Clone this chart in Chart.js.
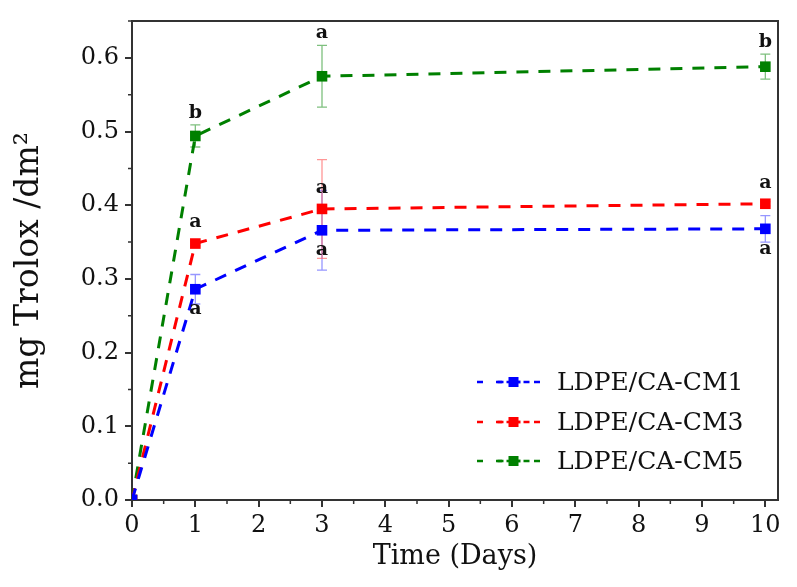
<!DOCTYPE html>
<html lang="en">
<head>
<meta charset="UTF-8">
<title>mg Trolox /dm2 over time</title>
<script src="https://cdn.jsdelivr.net/npm/chart.js"></script>
<style>
  body { margin: 0; background: #fff; }
  #wrap { width: 797px; height: 587px; }
</style>
</head>
<body>
<div id="wrap"><canvas id="troloxChart"></canvas></div>
<script>
// values
const days = [0, 1, 3, 10];
const seriesNames = ["LDPE/CA-CM1", "LDPE/CA-CM3", "LDPE/CA-CM5"];
const cm1 = [0, 0.286, 0.366, 0.368];
const cm3 = [0, 0.348, 0.395, 0.402];
const cm5 = [0, 0.494, 0.575, 0.588];
const cm1Err = [0, 0.020, 0.054, 0.018];
const cm3Err = [0, 0.003, 0.067, 0.003];
const cm5Err = [0, 0.015, 0.042, 0.017];
const cm1Letters = ["", "a", "a", "a"];
const cm3Letters = ["", "a", "a", "a"];
const cm5Letters = ["", "b", "a", "b"];
const xTicks = [0, 1, 2, 3, 4, 5, 6, 7, 8, 9, 10];
const yTicks = [0.0, 0.1, 0.2, 0.3, 0.4, 0.5, 0.6];

const serif = "'DejaVu Serif', 'Liberation Serif', serif";

function toPoints(vals) {
    return days.map((d, i) => ({ x: d, y: vals[i] }));
}

function makeSet(label, vals, errs, letters, color, errColor, side, clearBars) {
    return {
        label: label,
        data: toPoints(vals),
        errors: errs,
        letters: letters,
        letterSide: side,
        clearBars: clearBars,
        errColor: errColor,
        borderColor: color,
        backgroundColor: color,
        borderWidth: 3,
        borderDash: [12, 10],
        pointStyle: "rect",
        pointRadius: 7.5,
        pointHoverRadius: 7.5,
        pointBorderWidth: 0,
        tension: 0,
        fill: false
    };
}

// error bars, drawn under the markers
const errorBars = {
    id: "errorBars",
    beforeDatasetsDraw(chart) {
        const ctx = chart.ctx;
        const xs = chart.scales.x, ys = chart.scales.y;
        chart.data.datasets.forEach(ds => {
            ctx.save();
            ctx.strokeStyle = ds.errColor;
            ctx.lineWidth = 1.3;
            ds.data.forEach((p, i) => {
                const e = ds.errors[i];
                if (!e) return;
                const px = xs.getPixelForValue(p.x);
                const top = ys.getPixelForValue(p.y + e);
                const bot = ys.getPixelForValue(p.y - e);
                ctx.beginPath();
                ctx.moveTo(px, top); ctx.lineTo(px, bot);
                ctx.moveTo(px - 5, top); ctx.lineTo(px + 5, top);
                ctx.moveTo(px - 5, bot); ctx.lineTo(px + 5, bot);
                ctx.stroke();
            });
            ctx.restore();
        });
    }
};

// significance letters, frame, minor ticks and legend
const decorations = {
    id: "decorations",
    afterDraw(chart) {
        const ctx = chart.ctx;
        const xs = chart.scales.x, ys = chart.scales.y;
        const area = chart.chartArea;

        ctx.save();
        ctx.font = "bold 19px " + serif;
        ctx.fillStyle = "#111";
        ctx.textAlign = "center";
        ctx.textBaseline = "middle";
        chart.data.datasets.forEach(ds => {
            ds.data.forEach((p, i) => {
                const t = ds.letters[i];
                if (!t) return;
                const px = xs.getPixelForValue(p.x);
                const py = ys.getPixelForValue(p.y);
                let ly;
                if (ds.letterSide === "below") {
                    ly = py + 20;
                } else {
                    ly = py - 21;
                    if (ds.clearBars) {
                        ly = Math.min(ly, ys.getPixelForValue(p.y + ds.errors[i]) - 12);
                    }
                }
                ctx.fillText(t, px, ly);
            });
        });
        ctx.restore();

        // top and right frame lines
        ctx.save();
        ctx.strokeStyle = "#333";
        ctx.lineWidth = 2;
        ctx.beginPath();
        ctx.moveTo(area.left, area.top);
        ctx.lineTo(area.right, area.top);
        ctx.lineTo(area.right, area.bottom);
        ctx.stroke();

        // minor ticks
        ctx.lineWidth = 1.5;
        ctx.beginPath();
        for (let i = 0; i < xTicks.length - 1; i++) {
            const px = xs.getPixelForValue(xTicks[i] + 0.5);
            ctx.moveTo(px, area.bottom);
            ctx.lineTo(px, area.bottom + 4);
        }
        for (let i = 0; i < yTicks.length; i++) {
            const py = ys.getPixelForValue(yTicks[i] + 0.05);
            ctx.moveTo(area.left, py);
            ctx.lineTo(area.left - 4, py);
        }
        ctx.stroke();
        ctx.restore();

        // legend in the lower right corner
        ctx.save();
        ctx.font = "25px " + serif;
        ctx.textBaseline = "middle";
        ctx.textAlign = "left";
        const rowY = [area.bottom - 118, area.bottom - 78, area.bottom - 39];
        const x0 = area.right - 301, x1 = area.right - 228, tx = area.right - 221;
        chart.data.datasets.forEach((ds, i) => {
            const y = rowY[i];
            ctx.strokeStyle = ds.borderColor;
            ctx.lineWidth = 2.5;
            ctx.setLineDash([6, 13]);
            ctx.beginPath();
            ctx.moveTo(x0, y); ctx.lineTo(x1, y);
            ctx.stroke();
            ctx.setLineDash([]);
            ctx.fillStyle = ds.borderColor;
            const mx = (x0 + x1) / 2;
            ctx.beginPath();
            ctx.moveTo(mx - 16, y); ctx.lineTo(mx + 16, y);
            ctx.stroke();
            ctx.fillStyle = "#fff";
            ctx.fillRect(mx - 10, y - 3, 3, 6);
            ctx.fillRect(mx + 7, y - 3, 3, 6);
            ctx.fillStyle = ds.borderColor;
            ctx.fillRect(mx - 5, y - 5, 10, 10);
            ctx.fillStyle = "#111";
            ctx.fillText(ds.label, tx, y + 1);
        });
        ctx.restore();
    }
};

const ctx = document.getElementById("troloxChart").getContext("2d");
new Chart(ctx, {
    type: "line",
    data: {
        datasets: [
            makeSet(seriesNames[0], cm1, cm1Err, cm1Letters, "#0000ff", "rgba(80,80,255,0.6)", "below", false),
            makeSet(seriesNames[1], cm3, cm3Err, cm3Letters, "#ff0000", "rgba(255,80,80,0.6)", "above", false),
            makeSet(seriesNames[2], cm5, cm5Err, cm5Letters, "#008000", "rgba(40,150,40,0.6)", "above", true)
        ]
    },
    options: {
        responsive: true,
        maintainAspectRatio: false,
        animation: false,
        layout: { padding: { top: 21, right: 19, left: 0, bottom: 0 } },
        plugins: {
            legend: { display: false },
            tooltip: { enabled: false }
        },
        scales: {
            x: {
                type: "linear",
                min: 0,
                max: 10.2,
                afterFit: s => { s.height = 87; },
                afterBuildTicks: s => { s.ticks = xTicks.map(v => ({ value: v })); },
                ticks: {
                    stepSize: 1,
                    includeBounds: false,
                    padding: 4,
                    color: "#111",
                    font: { family: serif, size: 24 },
                    maxRotation: 0
                },
                grid: { drawOnChartArea: false, tickLength: 7, color: "#333", lineWidth: 2 },
                border: { color: "#333", width: 2 },
                title: {
                    display: true,
                    text: "Time (Days)",
                    color: "#111",
                    font: { family: serif, size: 27 },
                    padding: { top: 0, bottom: 14 }
                }
            },
            y: {
                min: 0,
                max: 0.65,
                afterFit: s => { s.width = 132; },
                afterBuildTicks: s => { s.ticks = yTicks.map(v => ({ value: v })); },
                ticks: {
                    stepSize: 0.1,
                    includeBounds: false,
                    padding: 6,
                    color: "#111",
                    font: { family: serif, size: 24 },
                    callback: v => Number(v).toFixed(1)
                },
                grid: { drawOnChartArea: false, tickLength: 7, color: "#333", lineWidth: 2 },
                border: { color: "#333", width: 2 },
                title: {
                    display: true,
                    text: "mg Trolox /dm²",
                    color: "#111",
                    font: { family: serif, size: 33 },
                    padding: { top: 10, bottom: 0 }
                }
            }
        }
    },
    plugins: [errorBars, decorations]
});
</script>
</body>
</html>
